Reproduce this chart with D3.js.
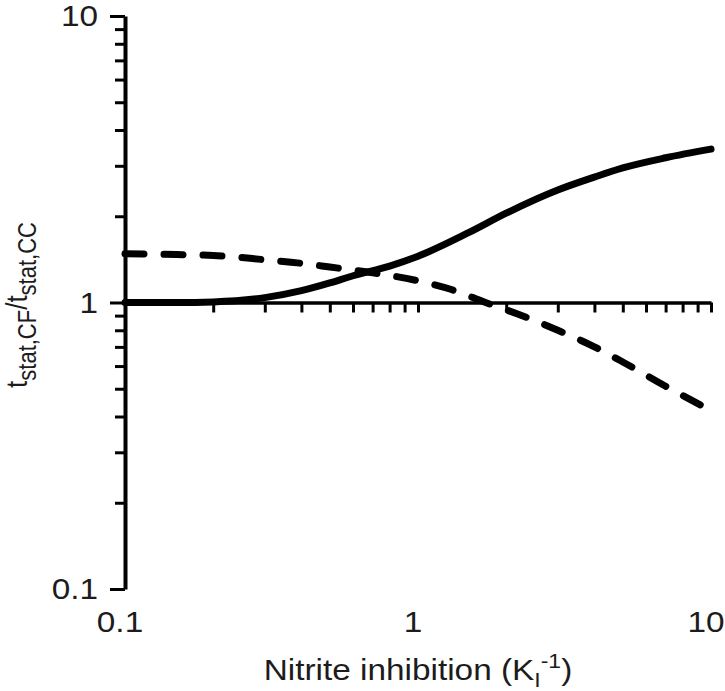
<!DOCTYPE html>
<html>
<head>
<meta charset="utf-8">
<script src="https://cdn.jsdelivr.net/npm/d3@7"></script>
<style>
  html, body { margin: 0; padding: 0; background: #fff; }
  svg { display: block; font-family: "Liberation Sans", Arial, sans-serif; }
</style>
</head>
<body>
<svg id="chart" width="725" height="691"></svg>
<script>
// ---- Data ----
const solidX = [0.1, 0.15, 0.2, 0.3, 0.4, 0.5, 0.6, 0.8, 1.0, 1.5, 2.0, 3.0, 4.0, 5.0, 7.0, 10.0];
const solidY = [1.00, 1.00, 1.005, 1.04, 1.10, 1.17, 1.24, 1.34, 1.45, 1.76, 2.05, 2.47, 2.74, 2.95, 3.20, 3.43];
const dashedX = [0.1, 0.15, 0.2, 0.3, 0.4, 0.5, 0.7, 1.0, 1.3, 1.7, 2.2, 3.0, 4.0, 5.0, 7.0, 10.0];
const dashedY = [1.48, 1.47, 1.46, 1.41, 1.37, 1.33, 1.27, 1.19, 1.11, 1.00, 0.91, 0.80, 0.70, 0.62, 0.51, 0.42];
const majorTicks = [0.1, 1, 10];
const majorTickLabels = ["0.1", "1", "10"];
const minorTicks = [0.2, 0.3, 0.4, 0.5, 0.6, 0.7, 0.8, 0.9, 2, 3, 4, 5, 6, 7, 8, 9];
const xTitle = "Nitrite inhibition (K";
const yTitleMain = "t";

// ---- Layout ----
const svg = d3.select("#chart");
const x = d3.scaleLog().domain([0.1, 10]).range([125, 711]);
const y = d3.scaleLog().domain([0.1, 10]).range([589, 16]);
const ink = "#000";
const textInk = "#1c1c1c";
const fontSize = 29;
const stretch = 1.15; // reference text is slightly wider than Arial

// Y axis: major ticks with labels
const yMajor = svg.append("g").attr("transform", `translate(${x(0.1)},0)`)
  .call(d3.axisLeft(y).tickValues(majorTicks).tickSize(15).tickSizeOuter(0).tickFormat(""));
const yMinor = svg.append("g").attr("transform", `translate(${x(0.1)},0)`)
  .call(d3.axisLeft(y).tickValues(minorTicks).tickSize(10).tickSizeOuter(0).tickFormat(""));
[yMajor, yMinor].forEach(g => {
  g.select(".domain").attr("stroke", ink).attr("stroke-width", 4);
  g.selectAll(".tick line").attr("stroke", ink).attr("stroke-width", 3);
});
yMinor.select(".domain").remove();

svg.append("g").selectAll("text").data(majorTicks).join("text")
  .attr("transform", d => `translate(98,${y(d)}) scale(${stretch},1)`)
  .attr("dy", "0.35em")
  .attr("text-anchor", "end")
  .attr("font-size", fontSize)
  .attr("fill", textInk)
  .text((d, i) => majorTickLabels[i]);

// X axis drawn along y = 1, ticks downward, labels at bottom
const xAxisG = svg.append("g").attr("transform", `translate(0,${y(1)})`)
  .call(d3.axisBottom(x).tickValues(majorTicks.concat(minorTicks)).tickSize(10).tickSizeOuter(0).tickFormat(""));
xAxisG.select(".domain").attr("stroke", ink).attr("stroke-width", 3.5);
xAxisG.selectAll(".tick line").attr("stroke", ink).attr("stroke-width", 3);

svg.append("g").selectAll("text").data(majorTicks).join("text")
  .attr("transform", d => `translate(${x(d) - 5},632) scale(${stretch},1)`)
  .attr("text-anchor", "middle")
  .attr("font-size", fontSize)
  .attr("fill", textInk)
  .text((d, i) => majorTickLabels[i]);

// Curves
const line = d3.line().x(d => x(d[0])).y(d => y(d[1])).curve(d3.curveMonotoneX);
svg.append("path")
  .datum(dashedX.map((v, i) => [v, dashedY[i]]))
  .attr("d", line)
  .attr("fill", "none").attr("stroke", ink).attr("stroke-width", 7)
  .attr("stroke-linecap", "round").attr("stroke-dasharray", "19,20");
svg.append("path")
  .datum(solidX.map((v, i) => [v, solidY[i]]))
  .attr("d", line)
  .attr("fill", "none").attr("stroke", ink).attr("stroke-width", 7)
  .attr("stroke-linecap", "round");

// X title
const xt = svg.append("text")
  .attr("transform", `translate(${(x(0.1) + x(10)) / 2},680) scale(${stretch},1)`)
  .attr("text-anchor", "middle")
  .attr("font-size", fontSize)
  .attr("fill", textInk);
xt.append("tspan").text(xTitle);
xt.append("tspan").attr("font-size", 20).attr("dy", 7).text("I");
xt.append("tspan").attr("font-size", 20).attr("dy", -19).text("-1");
xt.append("tspan").attr("dy", 12).text(")");

// Y title (rotated)
const yt = svg.append("text")
  .attr("transform", `translate(27,${305}) scale(${stretch},1) rotate(-90)`)
  .attr("text-anchor", "middle")
  .attr("font-size", 26)
  .attr("fill", textInk);
yt.append("tspan").text(yTitleMain);
yt.append("tspan").attr("font-size", 22).attr("dy", 8).text("stat,CF");
yt.append("tspan").attr("dy", -8).text("/t");
yt.append("tspan").attr("font-size", 22).attr("dy", 8).text("stat,CC");
</script>
</body>
</html>
